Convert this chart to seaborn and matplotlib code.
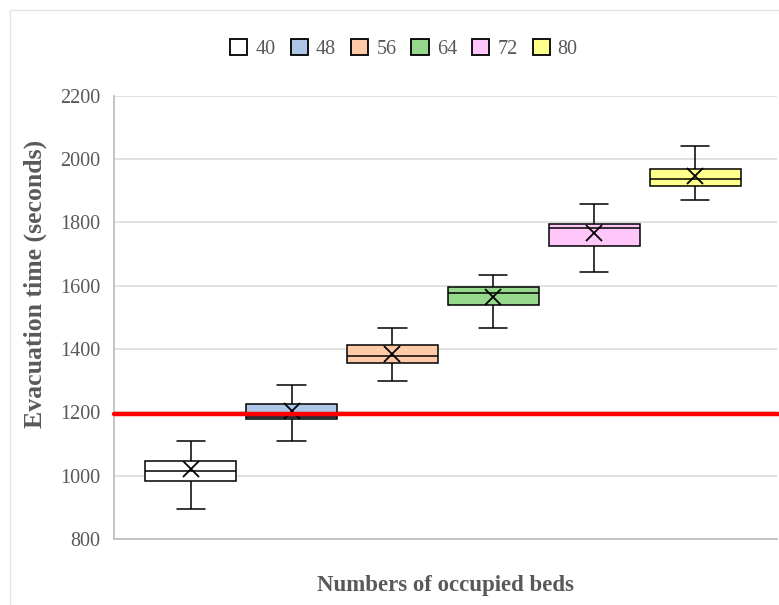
import numpy as np
import pandas as pd
import matplotlib
matplotlib.use("Agg")
import matplotlib.pyplot as plt
import seaborn as sns
from matplotlib.patches import Rectangle

# values (seconds)
beds = ["40", "48", "56", "64", "72", "80"]
whisker_low = [895, 1110, 1299, 1465, 1643, 1870]
q1 = [984, 1178, 1355, 1539, 1726, 1916]
median = [1016, 1186, 1378, 1576, 1781, 1936]
q3 = [1047, 1226, 1413, 1597, 1796, 1967]
whisker_high = [1109, 1287, 1465, 1634, 1858, 2042]
means = [1021, 1203, 1383, 1565, 1765, 1946]
threshold = 1194

box_colors = ["#ffffff", "#aec7e8", "#ffcaa8", "#96d88c", "#ffc6fa", "#ffff8c"]

# five-number summary per group -> long table so seaborn computes the same stats
rows = []
for i, b in enumerate(beds):
    for v in (whisker_low[i], q1[i], median[i], q3[i], whisker_high[i]):
        rows.append({"beds": b, "time": v})
df = pd.DataFrame(rows)

sns.set_style("white")
plt.rcParams["font.family"] = ["Liberation Serif", "DejaVu Serif"]

fig = plt.figure(figsize=(7.79, 6.05), dpi=100)
ax = fig.add_axes([0.1463, 0.1091, 0.851, 0.7327])

# outer chart frame
fig.patches.append(Rectangle((10 / 779, -0.1), 1.2, 1 - 10 / 605 + 0.1,
                             transform=fig.transFigure, fill=False,
                             edgecolor="#e3e3e3", linewidth=1.0))

sns.boxplot(data=df, x="beds", y="time", hue="beds", order=beds, hue_order=beds,
            palette=box_colors, saturation=1, width=0.9, whis=(0, 100),
            linecolor="black", linewidth=1.1, legend=True, ax=ax, zorder=3,
            capwidths=0.28)

sns.pointplot(x=beds, y=means, order=beds, color="black", markers="x",
              linestyles="none", errorbar=None, markersize=11, ax=ax, zorder=4)
for line in ax.lines[-1:]:
    line.set_markeredgewidth(1.3)

ax.axhline(threshold, xmin=0, xmax=1.01, color="#ff0000", linewidth=3.2,
           clip_on=False, zorder=5)

ax.set_ylim(800, 2200)
ax.set_xlim(-0.76, 5.81)
ax.set_yticks(range(800, 2201, 200))
ax.set_xticks([])
ax.yaxis.grid(True, color="#d9d9d9", linewidth=1.1, zorder=0)
ax.set_axisbelow(True)
ax.tick_params(axis="y", length=0, pad=10, labelsize=14.5, labelcolor="#595959")
for s in ["top", "right"]:
    ax.spines[s].set_visible(False)
for s in ["left", "bottom"]:
    ax.spines[s].set_color("#bfbfbf")
    ax.spines[s].set_linewidth(1.3)

ax.set_xlabel("Numbers of occupied beds", fontsize=16.5, fontweight="bold",
              color="#595959", labelpad=26)
ax.set_ylabel("Evacuation time (seconds)", fontsize=18.5, fontweight="bold",
              color="#595959")
ax.yaxis.set_label_coords(-0.101, 0.575)

sns.move_legend(ax, "center", bbox_to_anchor=(404 / 779, 1 - 49 / 605),
                bbox_transform=fig.transFigure, ncol=6, frameon=False,
                title=None, fontsize=14.5, handlelength=0.85, handleheight=0.85,
                handletextpad=0.4, columnspacing=0.75)
leg = ax.get_legend()
for t in leg.get_texts():
    t.set_color("#595959")
for h in leg.legend_handles:
    h.set_edgecolor("black")
    h.set_linewidth(1.3)

fig.savefig("out.png", dpi=100)
